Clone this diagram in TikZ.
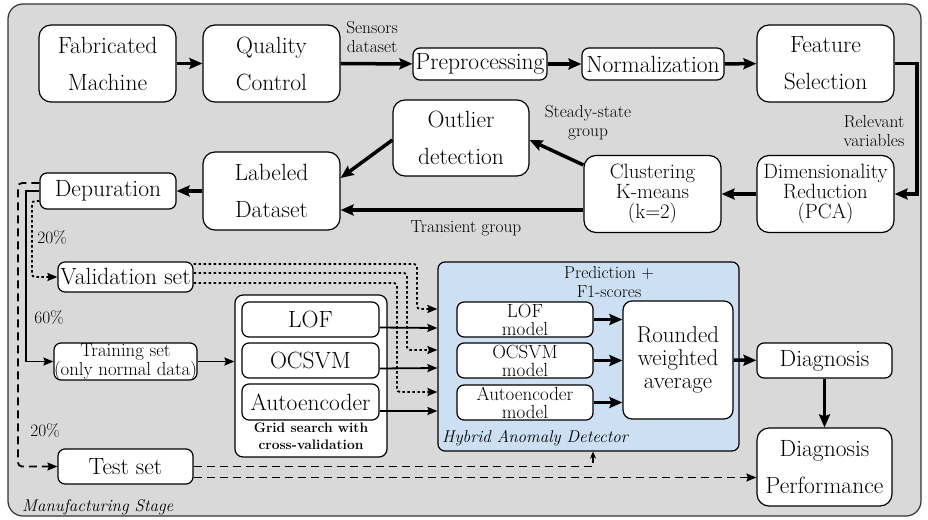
\documentclass[tikz,border=0pt]{standalone}
\usepackage{tikz}
\usetikzlibrary{calc, positioning, arrows.meta}
\usepackage{xcolor}
\definecolor{stagegray}{RGB}{217,217,217}
\definecolor{hybridblue}{RGB}{205,223,243}
\definecolor{framegray}{RGB}{50,50,50}

\begin{document}
\begin{tikzpicture}[x=1pt, y=-1pt,
    bigbox/.style={draw, fill=white, line width=1.2pt, rounded corners=12pt, align=center, inner sep=0pt,
        minimum width=137pt, minimum height=77pt, font=\fontsize{23.5}{37}\selectfont},
    flatbox/.style={draw, fill=white, line width=1.2pt, rounded corners=7pt, align=center, inner sep=0pt,
        minimum width=135pt, minimum height=35pt, font=\fontsize{23.5}{28}\selectfont},
    tightbox/.style={bigbox, font=\fontsize{20.7}{20}\selectfont},
    modelbox/.style={flatbox, minimum width=136pt, font=\fontsize{19}{18}\selectfont},
    lbl/.style={font=\fontsize{17.4}{19}\selectfont, align=center, inner sep=0pt},
    flow/.style={line width=3.5pt, -{Stealth[length=13pt,width=11pt,inset=2pt]}},
    link/.style={line width=1.8pt, -{Stealth[length=10pt,width=8pt,inset=1.5pt]}},
    dots/.style={dash pattern=on 2.5pt off 2.5pt},
    dashes/.style={dash pattern=on 8pt off 5pt}]
    \useasboundingbox (0,0) rectangle (928,519);
    % Draw stage frame
    \draw[framegray, fill=stagegray, line width=1.2pt, rounded corners=15pt] (8,4) rectangle (921,516);
    \node[lbl, anchor=west, font=\fontsize{17}{19}\selectfont\itshape] (stage) at (22,507) {Manufacturing Stage};
    % Upper chain
    \node[bigbox] (fab) at (107.5,63.5) {Fabricated\\Machine};
    \node[bigbox] (qc) at (271.5,63.5) {Quality\\Control};
    \node[flatbox, minimum width=134pt, minimum height=32pt] (pre) at (480,64) {Preprocessing};
    \node[flatbox, minimum width=142pt, minimum height=32pt] (norm) at (653,64) {Normalization};
    \node[bigbox] (fs) at (825.5,63.5) {Feature\\Selection};
    \node[tightbox] (dr) at (825.5,194) {Dimensionality\\Reduction\\(PCA)};
    \node[tightbox] (clu) at (652.5,194) {Clustering\\K-means\\(k=2)};
    \node[bigbox, minimum width=136pt, minimum height=76pt] (out) at (461,138) {Outlier\\detection};
    \node[bigbox, minimum height=78pt] (lab) at (271.5,191) {Labeled\\Dataset};
    \node[flatbox, minimum width=136pt, minimum height=36pt] (dep) at (108,191) {Depuration};
    \draw[flow] (fab) -- (qc);
    \draw[flow] (qc) -- (pre);
    \draw[flow] (pre) -- (norm);
    \draw[flow] (norm) -- (fs);
    \draw[flow] (fs.east) -- (917,63.5) |- (dr.east);
    \draw[flow] (dr) -- (clu);
    \draw[flow] ($(clu.west)+(0,-29)$) -- ($(out.east)+(0,2)$);
    \draw[flow] ($(clu.west)+(0,16)$) -- ($(lab.east)+(0,19)$);
    \draw[flow] ($(out.west)+(0,2)$) -- ($(lab.east)+(0,-13)$);
    \draw[flow] (lab) -- (dep);
    \node[lbl] (sens) at (372,37) {Sensors\\dataset};
    \node[lbl] (rel) at (874,131.5) {Relevant\\variables};
    \node[lbl] (steady) at (588,122.5) {Steady-state\\group};
    \node[lbl] (trans) at (466,228) {Transient group};
    % Data split
    \node[flatbox, minimum height=30pt] (val) at (125.5,277) {Validation set};
    \node[flatbox, minimum height=37pt, font=\fontsize{18.8}{13.5}\selectfont] (train) at (125.5,361.5) {Training set\\(only normal data)};
    \node[flatbox] (test) at (125.5,466.5) {Test set};
    \draw[link, dots, rounded corners=3pt] ($(dep.west)+(0,10)$) -- (32,201) |- (val.west);
    \draw[link] (dep.west) -- (26,191) |- (train.west);
    \draw[link, dashes, rounded corners=4pt] ($(dep.west)+(0,-8)$) -- (18,183) |- (test.west);
    \node[lbl] (pa) at (52,237) {20\%};
    \node[lbl] (pb) at (49,317) {60\%};
    \node[lbl] (pc) at (45,430) {20\%};
    % Grid search
    \node[draw, fill=white, line width=1.2pt, rounded corners=8pt, minimum width=152pt, minimum height=162pt] (grid) at (311,376) {};
    \node[flatbox, minimum width=137pt] (lof) at (310.5,319.5) {LOF};
    \node[flatbox, minimum width=137pt] (ocsvm) at (310.5,360.5) {OCSVM};
    \node[flatbox, minimum width=137pt, minimum height=36pt] (ae) at (310.5,402) {Autoencoder};
    \node[lbl, font=\fontsize{13.8}{17}\selectfont\bfseries] (gridlbl) at (311,436.5) {Grid search with\\cross-validation};
    \draw[link] (train.east) -- (grid.west |- train.east);
    % Hybrid anomaly detector
    \node[draw, fill=hybridblue, line width=1.2pt, rounded corners=7pt, minimum width=301pt, minimum height=189pt] (hyb) at (588.5,356.5) {};
    \node[lbl] (pred) at (609,282) {Prediction +\\F1-scores};
    \node[lbl, anchor=west, font=\fontsize{17}{19}\selectfont\itshape] (hyblbl) at (442,438) {Hybrid Anomaly Detector};
    \node[modelbox] (lofm) at (525,319.5) {LOF\\model};
    \node[modelbox] (ocm) at (525,360.5) {OCSVM\\model};
    \node[modelbox] (aem) at (525,402.5) {Autoencoder\\model};
    \node[draw, fill=white, line width=1.2pt, rounded corners=9pt, align=center, inner sep=0pt, minimum width=110pt,
        minimum height=118pt, font=\fontsize{22.9}{23}\selectfont] (rwa) at (678,360) {Rounded\\weighted\\average};
    \draw[flow] (lofm.east) -- (rwa.west |- lofm.east);
    \draw[flow] (ocm.east) -- (rwa.west |- ocm.east);
    \draw[flow] (aem.east) -- (rwa.west |- aem.east);
    \draw[link] ($(lof.east)+(0,8)$) -- (hyb.west |- 0,328);
    \draw[link] ($(ocsvm.east)+(0,8)$) -- (hyb.west |- 0,368);
    \draw[link] ($(ae.east)+(0,9)$) -- (hyb.west |- 0,411);
    \draw[link, dots, rounded corners=3pt] ($(val.east)+(0,-13)$) -- (417,264) |- (hyb.west |- 0,309);
    \draw[link, dots, rounded corners=3pt] ($(val.east)+(0,-4)$) -- (407,273) |- (hyb.west |- 0,350);
    \draw[link, dots, rounded corners=3pt] ($(val.east)+(0,6)$) -- (397,283) |- (hyb.west |- 0,392);
    % Diagnosis
    \node[flatbox] (diag) at (824.5,360.5) {Diagnosis};
    \node[bigbox, minimum width=135pt, minimum height=78pt] (perf) at (824.5,467) {Diagnosis\\Performance};
    \draw[flow] (rwa) -- (diag);
    \draw[flow] (diag) -- (perf);
    \coordinate (tl) at ($(test.east)+(0,11)$);
    \draw[line width=1.8pt, dashes, -{Stealth[length=7pt,width=6pt]}] (test.east) -| ($(hyb.south)+(4.5,0)$);
    \draw[link, dashes] (tl) -- (tl -| perf.west);
\end{tikzpicture}
\end{document}
